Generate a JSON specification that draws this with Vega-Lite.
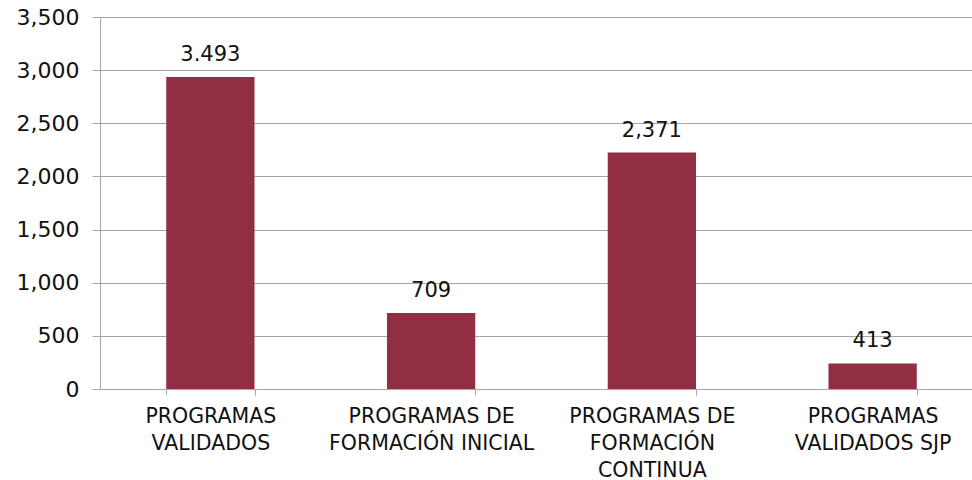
{
  "$schema": "https://vega.github.io/schema/vega-lite/v6.json",
  "width": 872,
  "height": 372,
  "autosize": {"type": "none"},
  "padding": {"left": 100, "top": 17, "right": 0, "bottom": 91},
  "background": "#ffffff",
  "config": {"view": {"stroke": null}, "font": "DejaVu Sans"},
  "data": {"values": [
    {"categoria": "PROGRAMAS|VALIDADOS", "valor": 2935, "etiqueta": "3.493"},
    {"categoria": "PROGRAMAS DE|FORMACIÓN INICIAL", "valor": 714, "etiqueta": "709"},
    {"categoria": "PROGRAMAS DE|FORMACIÓN|CONTINUA", "valor": 2224, "etiqueta": "2,371"},
    {"categoria": "PROGRAMAS|VALIDADOS SJP", "valor": 240, "etiqueta": "413"}
  ]},
  "encoding": {
    "x": {
      "field": "categoria", "type": "nominal", "sort": null,
      "scale": {"range": [0, 883], "paddingInner": 0.6, "paddingOuter": 0.3},
      "axis": {
        "title": null, "labelAngle": 0, "labelExpr": "split(datum.label, '|')",
        "labelFont": "DejaVu Sans", "labelFontSize": 20.5, "labelColor": "#111111",
        "labelLineHeight": 27, "labelPadding": 11, "labelBaseline": "top",
        "tickBand": "extent", "tickSize": 6, "tickColor": "#a6a6a6",
        "domainColor": "#a6a6a6", "grid": false, "labelLimit": 300
      }
    },
    "y": {
      "field": "valor", "type": "quantitative",
      "scale": {"domain": [0, 3500], "nice": false},
      "axis": {
        "title": null, "values": [0, 500, 1000, 1500, 2000, 2500, 3000, 3500],
        "format": ",.0f", "labelFont": "DejaVu Sans", "labelFontSize": 22, "labelColor": "#111111",
        "labelPadding": 13, "tickSize": 8, "tickColor": "#a6a6a6",
        "domainColor": "#a6a6a6", "gridColor": "#a6a6a6", "grid": true
      }
    }
  },
  "layer": [
    {"mark": {"type": "bar", "color": "#922F45"}},
    {"mark": {"type": "text", "baseline": "alphabetic", "dy": -16, "font": "DejaVu Sans", "fontSize": 21, "color": "#111111"},
     "encoding": {"text": {"field": "etiqueta", "type": "nominal"}}}
  ]
}
